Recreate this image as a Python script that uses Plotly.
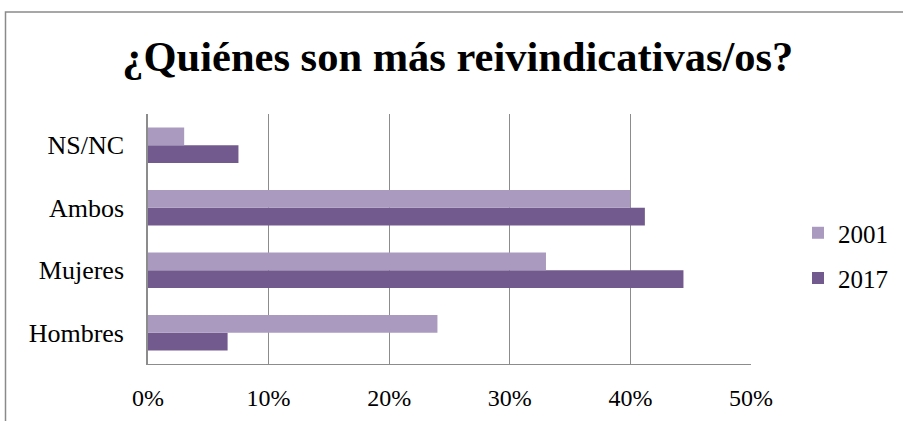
import plotly.graph_objects as go

# Survey answers: who is more assertive in claiming rights
categories = ["Hombres", "Mujeres", "Ambos", "NS/NC"]
values_2001 = [0.24, 0.33, 0.40, 0.03]
values_2017 = [0.066, 0.444, 0.412, 0.075]
x_ticks = [0, 0.1, 0.2, 0.3, 0.4, 0.5]
x_tick_labels = ["0%", "10%", "20%", "30%", "40%", "50%"]

color_2001 = "#AA9ABF"
color_2017 = "#725A8E"
grid_color = "#8C8C8C"
serif = "'Liberation Serif', 'Times New Roman', Times, 'DejaVu Serif', serif"

fig = go.Figure()
# 2017 first so it sits below 2001 inside each group
fig.add_trace(go.Bar(
    y=categories, x=values_2017, name="2017", orientation="h",
    marker=dict(color=color_2017, line=dict(width=0)), legend="legend2",
    showlegend=True,
))
fig.add_trace(go.Bar(
    y=categories, x=values_2001, name="2001", orientation="h",
    marker=dict(color=color_2001, line=dict(width=0)), legend="legend",
    showlegend=True,
))

W, H = 903, 421
L, R, T, B = 148, 751, 113.5, 364.5

def px_x(p):
    return (p - L) / (R - L)

def px_y(p):
    return (B - p) / (B - T)

fig.update_layout(
    width=W, height=H,
    margin=dict(l=L, r=W - R, t=T, b=H - B, pad=0, autoexpand=False),
    paper_bgcolor="white", plot_bgcolor="white",
    barmode="group", bargap=0.43, bargroupgap=0,
    showlegend=True,
    font=dict(family=serif, color="black", size=24),
    title=dict(
        text="<b>¿Quiénes son más reivindicativas/os?</b>",
        font=dict(family=serif, size=42.5, color="black"),
        x=0.507, xanchor="center", y=1 - 56 / H, yanchor="middle",
    ),
    xaxis=dict(
        range=[0, 0.5], tickvals=x_ticks, ticktext=x_tick_labels,
        showgrid=True, gridcolor=grid_color, gridwidth=1.4,
        showline=True, linecolor=grid_color, linewidth=1.4,
        zeroline=False, ticks="", ticklabelstandoff=12,
        tickfont=dict(family=serif, size=24),
    ),
    yaxis=dict(
        categoryorder="array", categoryarray=categories,
        showline=True, linecolor=grid_color, linewidth=1.6,
        showgrid=False, ticks="", ticklabelstandoff=17,
        tickfont=dict(family=serif, size=26),
    ),
    legend=dict(
        x=px_x(798), xanchor="left", y=px_y(233), yanchor="middle",
        font=dict(family=serif, size=25), bgcolor="rgba(0,0,0,0)",
        visible=True,
    ),
    legend2=dict(
        x=px_x(798), xanchor="left", y=px_y(278.5), yanchor="middle",
        font=dict(family=serif, size=25), bgcolor="rgba(0,0,0,0)",
        visible=True,
    ),
    shapes=[dict(
        type="rect", xref="paper", yref="paper",
        x0=px_x(5.5), x1=px_x(W + 20), y0=px_y(H + 20), y1=px_y(11),
        line=dict(color="#8A8A8A", width=1.5), fillcolor="rgba(0,0,0,0)",
        layer="below",
    )],
)

fig.write_html("out.html")
